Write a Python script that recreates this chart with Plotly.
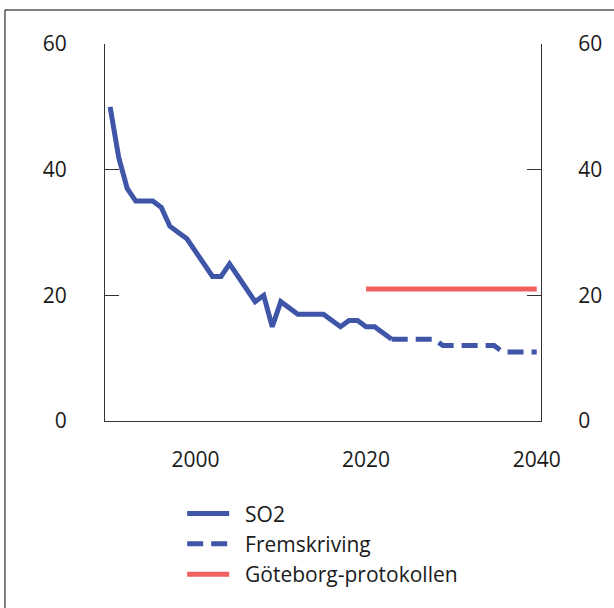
import plotly.graph_objects as go

years_so2 = list(range(1990, 2024))
so2 = [50, 42, 37, 35, 35, 35, 34, 31, 30, 29, 27, 25, 23, 23, 25, 23, 21, 19,
       20, 15, 19, 18, 17, 17, 17, 17, 16, 15, 16, 16, 15, 15, 14, 13]

years_proj = list(range(2023, 2041))
proj = [13, 13, 13, 13, 13, 13, 12, 12, 12, 12, 12, 12, 12, 11, 11, 11, 11, 11]

years_gbg = [2020, 2040]
gbg = [21, 21]

blue = "#3F55A8"
red = "#F0605F"
axis_col = "#333333"
font = dict(family="Open Sans", size=21, color="#1a1a1a")
pad = "\u00a0\u00a0"  # gap between legend symbol and label

fig = go.Figure()
fig.add_trace(go.Scatter(x=years_so2, y=so2, mode="lines", name=pad + "SO2",
                         line=dict(color=blue, width=5)))
fig.add_trace(go.Scatter(x=years_proj, y=proj, mode="lines", name=pad + "Fremskriving",
                         line=dict(color=blue, width=5, dash="16px,8px")))
fig.add_trace(go.Scatter(x=years_gbg, y=gbg, mode="lines", name=pad + "Göteborg-protokollen",
                         line=dict(color=red, width=5), yaxis="y2"))

yax = dict(range=[0, 60], tickvals=[0, 20, 40, 60], showgrid=False, zeroline=False,
           showline=True, linecolor=axis_col, linewidth=1,
           ticks="inside", ticklen=14, tickcolor=axis_col,
           tickfont=font, fixedrange=True)

fig.update_layout(
    width=614, height=608,
    margin=dict(l=105, r=73, t=44, b=187),
    paper_bgcolor="white", plot_bgcolor="white",
    font=font,
    xaxis=dict(range=[1989.4, 2040.5], tickvals=[2000, 2020, 2040],
               showgrid=False, zeroline=False, showline=True,
               linecolor=axis_col, linewidth=1, ticks="", fixedrange=True,
               ticklabelstandoff=20, tickfont=font),
    yaxis=dict(yax, side="left", ticklabelstandoff=33),
    yaxis2=dict(yax, side="right", overlaying="y", ticklabelstandoff=32),
    legend=dict(x=0.177, xanchor="left", y=-0.192, yanchor="top", itemwidth=42,
                font=font, bgcolor="rgba(0,0,0,0)", traceorder="normal"),
    showlegend=True,
    shapes=[dict(type="rect", xref="paper", yref="paper",
                 x0=-0.2294, x1=1.4, y0=-0.6, y1=1.0902,
                 line=dict(color="black", width=1), fillcolor="rgba(0,0,0,0)",
                 layer="below")],
)

fig.write_html("out.html", config={"displayModeBar": False},
               post_script="document.body.style.margin='0';document.body.style.overflow='hidden';")
